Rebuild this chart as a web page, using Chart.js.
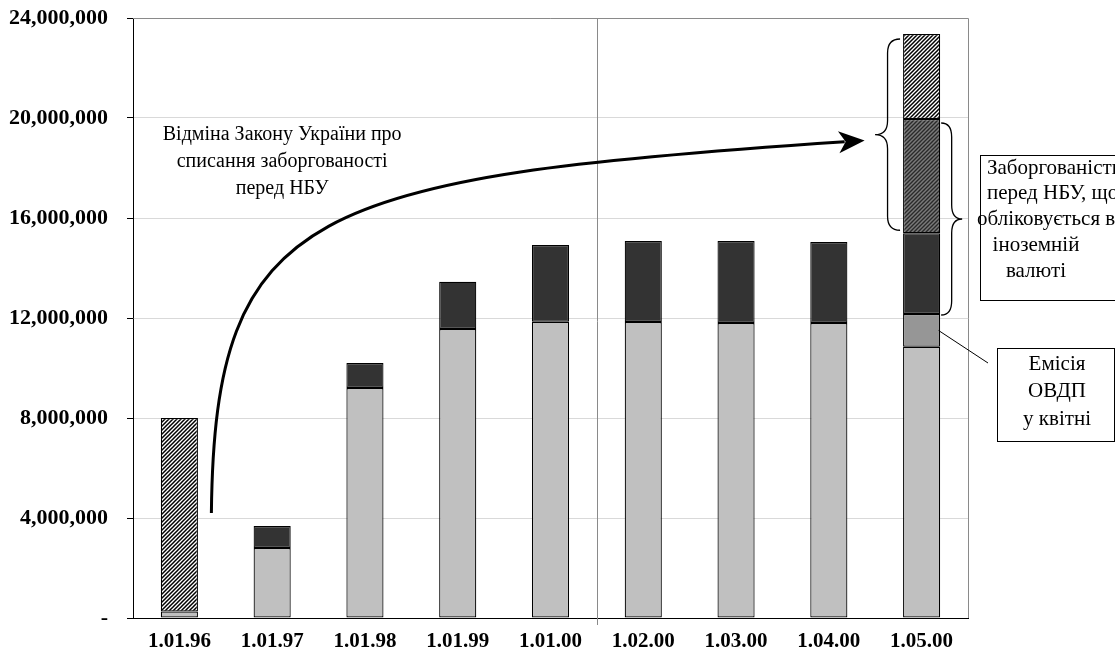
<!DOCTYPE html>
<html lang="uk">
<head>
<meta charset="utf-8">
<title>Державний борг</title>
<script src="https://cdn.jsdelivr.net/npm/chart.js@4.4.1/dist/chart.umd.min.js"></script>
<style>
  html, body { margin: 0; padding: 0; background: #fff; }
  canvas { display: block; }
</style>
</head>
<body>
<canvas id="debt" width="1115" height="662"></canvas>
<script>
// Dates of the balance
const categories = ['1.01.96', '1.01.97', '1.01.98', '1.01.99', '1.01.00', '1.02.00', '1.03.00', '1.04.00', '1.05.00'];

// Government bonds (ОВДП) held
const ovdp = [260000, 2800000, 9200000, 11560000, 11850000, 11840000, 11800000, 11800000, 10850000];
// Bond issue in April
const ovdpApril = [null, null, null, null, null, null, null, null, 1310000];
// Debt to NBU booked in foreign currency
const nbuFx = [null, 880000, 1000000, 1890000, 3070000, 3240000, 3280000, 3240000, 3230000];
// Part of the foreign-currency debt that overlaps the restored debt
const nbuFxRestored = [null, null, null, null, null, null, null, null, 4570000];
// Debt to NBU (written off, then restored)
const nbuRestored = [7740000, null, null, null, null, null, null, null, 3400000];

const yTicks = [0, 4000000, 8000000, 12000000, 16000000, 20000000, 24000000];

const arrowText = ['Відміна Закону України про', 'списання заборгованості', 'перед НБУ'];
const fxBoxText = ['Заборгованість', 'перед НБУ, що', 'обліковується в', 'іноземній', 'валюті'];
const aprilBoxText = ['Емісія', 'ОВДП', 'у квітні'];

const SERIF = '"Liberation Serif", "Times New Roman", serif';

function hatch(bg, fg) {
  const c = document.createElement('canvas');
  c.width = 4; c.height = 4;
  const g = c.getContext('2d');
  g.fillStyle = bg; g.fillRect(0, 0, 4, 4);
  g.strokeStyle = fg; g.lineWidth = 1.5;
  g.beginPath();
  g.moveTo(-1, 5); g.lineTo(5, -1);
  g.moveTo(-1, 1); g.lineTo(1, -1);
  g.moveTo(3, 5); g.lineTo(5, 3);
  g.stroke();
  return g.createPattern(c, 'repeat');
}

function brace(ctx, xEnd, xTip, yTop, yBot) {
  const xs = (xEnd + xTip) / 2;
  const yMid = (yTop + yBot) / 2;
  const r = 14;
  ctx.beginPath();
  ctx.moveTo(xEnd, yTop);
  ctx.quadraticCurveTo(xs, yTop, xs, yTop + r);
  ctx.lineTo(xs, yMid - r);
  ctx.quadraticCurveTo(xs, yMid, xTip, yMid);
  ctx.quadraticCurveTo(xs, yMid, xs, yMid + r);
  ctx.lineTo(xs, yBot - r);
  ctx.quadraticCurveTo(xs, yBot, xEnd, yBot);
  ctx.stroke();
}

const frame = {
  id: 'frame',
  beforeDatasetsDraw(chart) {
    const { ctx, chartArea: a, scales: { x } } = chart;
    ctx.save();
    ctx.strokeStyle = '#8a8a8a';
    ctx.lineWidth = 1;
    // plot border (top, right)
    ctx.beginPath();
    ctx.moveTo(a.left, a.top + 0.5);
    ctx.lineTo(a.right + 0.5, a.top + 0.5);
    ctx.lineTo(a.right + 0.5, a.bottom);
    ctx.stroke();
    // separator between annual and monthly dates
    const sx = Math.round((x.getPixelForValue(4) + x.getPixelForValue(5)) / 2) + 0.5;
    ctx.beginPath();
    ctx.moveTo(sx, a.top);
    ctx.lineTo(sx, a.bottom + 7);
    ctx.stroke();
    ctx.restore();
  }
};

const notes = {
  id: 'notes',
  afterDatasetsDraw(chart) {
    const { ctx, chartArea: a, scales: { x, y } } = chart;
    const last = categories.length - 1;
    const bar = chart.getDatasetMeta(0).data[last];
    const bLeft = bar.x - bar.width / 2, bRight = bar.x + bar.width / 2;
    ctx.save();
    ctx.fillStyle = '#000';
    ctx.strokeStyle = '#000';

    // curved arrow
    const x0 = x.getPixelForValue(0) + 32, y0 = y.getPixelForValue(4200000);
    const x1 = bar.x - 57, y1 = y.getPixelForValue(19100000);
    const dx = x1 - x0, dy = y1 - y0;
    const c1x = x0 + 0.005 * dx, c1y = y0 + 0.82 * dy;
    const c2x = x0 + 0.15 * dx, c2y = y0 + 0.90 * dy;
    const ang = Math.atan2(y1 - c2y, x1 - c2x);
    const hl = 26, hw = 11;
    const bx = x1 - Math.cos(ang) * (hl - 6), by = y1 - Math.sin(ang) * (hl - 6);
    ctx.lineWidth = 3;
    ctx.beginPath();
    ctx.moveTo(x0, y0);
    ctx.bezierCurveTo(c1x, c1y, c2x, c2y, bx, by);
    ctx.stroke();
    ctx.save();
    ctx.translate(x1, y1);
    ctx.rotate(ang);
    ctx.beginPath();
    ctx.moveTo(0, 0);
    ctx.lineTo(-hl, -hw);
    ctx.lineTo(-hl + 7, 0);
    ctx.lineTo(-hl, hw);
    ctx.closePath();
    ctx.fill();
    ctx.restore();

    ctx.font = '20px ' + SERIF;
    ctx.textAlign = 'center';
    ctx.textBaseline = 'middle';
    arrowText.forEach((t, i) => ctx.fillText(t, x.getPixelForValue(1) + 10, 135 + i * 27));

    // braces
    ctx.lineWidth = 1.3;
    const topRestored = y.getPixelForValue(23360000);
    const topFx = y.getPixelForValue(15390000);
    brace(ctx, bLeft - 3, bLeft - 28, topRestored + 5, topFx - 3);
    const topFxRestored = y.getPixelForValue(19960000);
    const topApril = y.getPixelForValue(12160000);
    brace(ctx, bRight + 1, bRight + 22, topFxRestored + 4, topApril + 1);

    // foreign-currency debt box
    const bx1 = a.right + 12;
    ctx.lineWidth = 1;
    ctx.fillStyle = '#fff';
    ctx.fillRect(bx1 + 0.5, 155.5, 200, 145);
    ctx.strokeRect(bx1 + 0.5, 155.5, 200, 145);
    ctx.fillStyle = '#000';
    ctx.font = '21px ' + SERIF;
    const fxCenter = bx1 + 56;
    fxBoxText.forEach((t, i) => {
      const w = ctx.measureText(t).width;
      const yy = 168 + i * 25.8;
      if (w > 112) {
        ctx.textAlign = 'left';
        ctx.fillText(t, i === 2 ? bx1 - 3 : bx1 + 7, yy);
      } else {
        ctx.textAlign = 'center';
        ctx.fillText(t, fxCenter, yy);
      }
    });

    // April issue note
    ctx.textAlign = 'center';
    ctx.beginPath();
    ctx.moveTo(bar.x + 17, y.getPixelForValue(11500000));
    ctx.lineTo(a.right + 20, 363);
    ctx.stroke();
    const ex = a.right + 29;
    ctx.fillStyle = '#fff';
    ctx.fillRect(ex + 0.5, 348.5, 117, 93);
    ctx.strokeRect(ex + 0.5, 348.5, 117, 93);
    ctx.fillStyle = '#000';
    ctx.font = '21px ' + SERIF;
    aprilBoxText.forEach((t, i) => ctx.fillText(t, ex + 60, 364 + i * 27.5));
    ctx.restore();
  }
};

const common = { borderColor: '#000', borderWidth: 1.2, borderSkipped: false, barPercentage: 0.4, categoryPercentage: 1 };

new Chart(document.getElementById('debt'), {
  type: 'bar',
  data: {
    labels: categories,
    datasets: [
      { label: 'ОВДП', data: ovdp, backgroundColor: '#c0c0c0', ...common },
      { label: 'Емісія ОВДП у квітні', data: ovdpApril, backgroundColor: '#969696', ...common },
      { label: 'Заборгованість перед НБУ в іноземній валюті', data: nbuFx, backgroundColor: '#333333', ...common },
      { label: 'Заборгованість перед НБУ в іноземній валюті (відновлена)', data: nbuFxRestored, backgroundColor: hatch('#2a2a2a', '#7a7a7a'), ...common },
      { label: 'Заборгованість перед НБУ (відновлена)', data: nbuRestored, backgroundColor: hatch('#ffffff', '#000000'), ...common }
    ]
  },
  options: {
    responsive: false,
    animation: false,
    layout: { padding: { top: 18, right: 147, bottom: 0, left: 0 } },
    plugins: { legend: { display: false }, tooltip: { enabled: false } },
    scales: {
      x: {
        stacked: true,
        grid: { display: false, drawTicks: false },
        border: { display: true, color: '#000', width: 1 },
        ticks: { color: '#000', padding: 11, font: { family: SERIF, size: 21, weight: 'bold' } },
        afterFit(s) { s.height = 44; s.paddingLeft = 0; s.paddingRight = 0; }
      },
      y: {
        stacked: true,
        min: 0,
        max: 24000000,
        afterBuildTicks(s) { s.ticks = yTicks.map(v => ({ value: v })); },
        grid: { color: '#d9d9d9', tickColor: '#000', tickLength: 6, lineWidth: 1 },
        border: { display: true, color: '#000', width: 1 },
        ticks: {
          color: '#000',
          padding: 19,
          font: { family: SERIF, size: 22, weight: 'bold' },
          callback: v => v === 0 ? '-' : v.toLocaleString('en-US')
        },
        afterFit(s) { s.width = 133; s.paddingTop = 0; s.paddingBottom = 0; }
      }
    }
  },
  plugins: [frame, notes]
});
</script>
</body>
</html>
